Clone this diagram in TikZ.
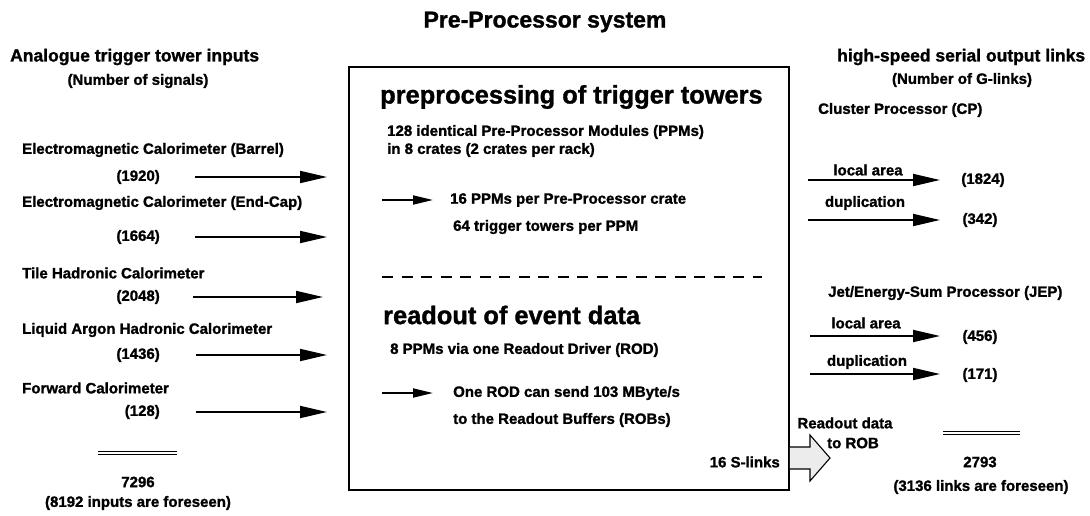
\documentclass[tikz,border=0pt]{standalone}
\usepackage{fontspec}
\setmainfont{Liberation Sans}[BoldFeatures={FakeBold=1.3}]
\usetikzlibrary{arrows.meta}
\begin{document}
\begin{tikzpicture}[x=1pt,y=-1pt,
  t/.style={inner sep=0pt, font=\bfseries\fontsize{15}{18}\selectfont},
  tl/.style={t, anchor=west},
  hd/.style={inner sep=0pt, font=\bfseries\fontsize{17.5}{20}\selectfont},
  ttl/.style={inner sep=0pt, font=\bfseries\fontsize{23}{26}\selectfont},
  big/.style={inner sep=0pt, anchor=west, font=\bfseries\fontsize{25.4}{28}\selectfont},
  arr/.style={line width=1.8pt, -{Triangle[length=27pt,width=12pt]}},
  sarr/.style={line width=1.8pt, -{Triangle[length=20pt,width=9pt]}},
  dbl/.style={double, double distance=2pt, line width=1.2pt},
  ppbox/.style={draw, line width=1.8pt, minimum width=440pt, minimum height=423pt, inner sep=0pt, anchor=north west}
]
\useasboundingbox (0,0) rectangle (1090,515);

% title
\node[ttl] (title) at (545,22) {Pre-Processor system};

% left column
\node[hd, anchor=west] (inhead) at (10,57) {Analogue trigger tower inputs};
\node[t] (insub) at (138,81) {(Number of signals)};

\node[tl] (l1) at (22,150) {Electromagnetic Calorimeter (Barrel)};
\node[t, anchor=east] (n1) at (160,177) {(1920)};
\node[tl] (l2) at (22,203) {Electromagnetic Calorimeter (End-Cap)};
\node[t, anchor=east] (n2) at (160,237) {(1664)};
\node[tl] (l3) at (22,273) {Tile Hadronic Calorimeter};
\node[t, anchor=east] (n3) at (160,297) {(2048)};
\node[tl] (l4) at (22,330) {Liquid Argon Hadronic Calorimeter};
\node[t, anchor=east] (n4) at (160,355) {(1436)};
\node[tl] (l5) at (22,388) {Forward Calorimeter};
\node[t, anchor=east] (n5) at (160,412) {(128)};

\coordinate (a1s) at (195,177); \coordinate (a1e) at (327,177);
\coordinate (a2s) at (195,237); \coordinate (a2e) at (327,237);
\coordinate (a3s) at (193,297); \coordinate (a3e) at (323,297);
\coordinate (a4s) at (196,355); \coordinate (a4e) at (327,355);
\coordinate (a5s) at (196,412); \coordinate (a5e) at (327,412);
\foreach \i in {1,...,5} \draw[arr] (a\i s) -- (a\i e);

\coordinate (ls1) at (98,453); \coordinate (ls2) at (177,453);
\draw[dbl] (ls1) -- (ls2);
\node[t] (insum) at (138,482) {7296};
\node[t] (infor) at (138,503) {(8192 inputs are foreseen)};

% central box
\node[ppbox] (box) at (348,66) {};
\node[big] (h1) at (380,97) {preprocessing of trigger towers};
\node[tl] (b1) at (387,132) {128 identical Pre-Processor Modules (PPMs)};
\node[tl] (b2) at (387,150) {in 8 crates (2 crates per rack)};
\coordinate (ba1s) at (382,200); \coordinate (ba1e) at (433,200);
\draw[sarr] (ba1s) -- (ba1e);
\node[tl] (b3) at (450,200) {16 PPMs per Pre-Processor crate};
\node[tl] (b4) at (453,227) {64 trigger towers per PPM};

\coordinate (ds) at (382,277); \coordinate (de) at (762,277);
\draw[line width=2pt, dash pattern=on 11pt off 8.5pt] (ds) -- (de);

\node[big] (h2) at (383,315) {readout of event data};
\node[tl] (b5) at (390,350) {8 PPMs via one Readout Driver (ROD)};
\coordinate (ba2s) at (382,393); \coordinate (ba2e) at (433,393);
\draw[sarr] (ba2s) -- (ba2e);
\node[tl] (b6) at (453,393) {One ROD can send 103 MByte/s};
\node[tl] (b7) at (453,420) {to the Readout Buffers (ROBs)};
\node[t, anchor=east] (b8) at (780,462) {16 S-links};

% block arrow to ROB
\draw[line width=1.1pt, fill=gray!15] (box.east |- 0,447) -- (810,447) -- (810,435) -- (830,458)
  -- (810,481) -- (810,469) -- (box.east |- 0,469);
\node[t] (rob1) at (845,423) {Readout data};
\node[t] (rob2) at (853,443) {to ROB};

% right column
\node[hd, anchor=west] (outhead) at (837,57) {high-speed serial output links};
\node[t] (outsub) at (962,80) {(Number of G-links)};

\node[tl] (cp) at (818,110) {Cluster Processor (CP)};
\node[t] (cpl) at (868,170) {local area};
\coordinate (c1s) at (808,180); \coordinate (c1e) at (940,180);
\draw[arr] (c1s) -- (c1e);
\node[t] (cpn1) at (983,180) {(1824)};
\node[t] (cpd) at (865,203) {duplication};
\coordinate (c2s) at (808,220); \coordinate (c2e) at (940,220);
\draw[arr] (c2s) -- (c2e);
\node[t] (cpn2) at (980,220) {(342)};

\node[tl] (jep) at (828,293) {Jet/Energy-Sum Processor (JEP)};
\node[t] (jepl) at (866,323) {local area};
\coordinate (j1s) at (810,336); \coordinate (j1e) at (940,336);
\draw[arr] (j1s) -- (j1e);
\node[t] (jn1) at (980,337) {(456)};
\node[t] (jepd) at (867,362) {duplication};
\coordinate (j2s) at (810,374); \coordinate (j2e) at (940,374);
\draw[arr] (j2s) -- (j2e);
\node[t] (jn2) at (980,375) {(171)};

\coordinate (rs1) at (943,433); \coordinate (rs2) at (1020,433);
\draw[dbl] (rs1) -- (rs2);
\node[t] (outsum) at (980,462) {2793};
\node[t] (outfor) at (981,487) {(3136 links are foreseen)};
\end{tikzpicture}
\end{document}
